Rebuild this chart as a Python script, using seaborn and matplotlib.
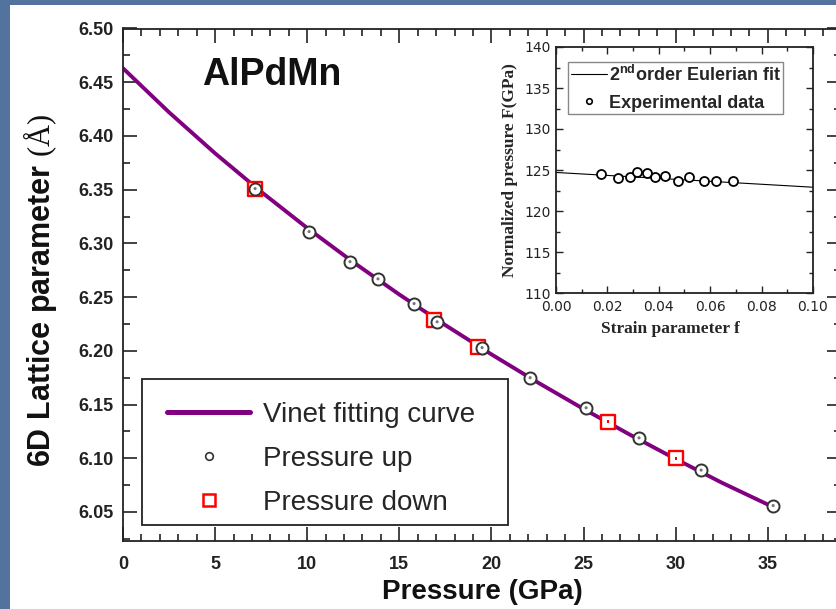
import matplotlib
matplotlib.use("Agg")
import matplotlib.pyplot as plt
import seaborn as sns
from matplotlib.lines import Line2D
from matplotlib.patches import Rectangle
from matplotlib.ticker import MultipleLocator, FormatStrFormatter

# ---------------- data ----------------
curve_p = [0, 2.5, 5, 7.5, 10, 12.5, 15, 17.5, 20, 22.5, 25, 27.5, 30, 32.5, 35.3]
curve_a = [6.4630, 6.4220, 6.3838, 6.3480, 6.3143, 6.2825, 6.2524, 6.2239, 6.1967,
           6.1707, 6.1459, 6.1221, 6.0993, 6.0773, 6.0545]

up_p = [7.17, 10.10, 12.32, 13.84, 15.80, 17.05, 19.49, 22.10, 25.14, 28.01, 31.38, 35.29]
up_a = [6.351, 6.311, 6.283, 6.267, 6.244, 6.227, 6.203, 6.175, 6.147, 6.119, 6.089, 6.056]

down_p = [7.17, 16.88, 19.27, 26.33, 30.02]
down_a = [6.351, 6.229, 6.204, 6.134, 6.100]

main_labels = ["Vinet fitting curve", "Pressure up", "Pressure down"]

strain = [0.0177, 0.0242, 0.0288, 0.0316, 0.0355, 0.0385, 0.0426, 0.0475, 0.0518,
          0.0575, 0.0624, 0.0687]
norm_p = [124.5, 124.0, 124.2, 124.7, 124.6, 124.1, 124.3, 123.6, 124.1, 123.6,
          123.6, 123.6]
fit_f = [0.0, 0.10]
fit_F = [124.7, 122.9]
inset_labels = [r"2$^{\mathbf{nd}}$order Eulerian fit", "Experimental data"]

# ---------------- style ----------------
sns.set_theme(style="ticks")
plt.rcParams["font.family"] = ["Liberation Sans", "DejaVu Sans"]
plt.rcParams["mathtext.fontset"] = "custom"
plt.rcParams["mathtext.rm"] = "Liberation Serif"
plt.rcParams["mathtext.bf"] = "Liberation Sans:bold"
plt.rcParams["axes.linewidth"] = 1.3
plt.rcParams["axes.edgecolor"] = "#222222"

W, H = 837, 609
def fx(px):
    return px / W
def fy(py):
    return 1 - py / H

fig = plt.figure(figsize=(W / 100, H / 100), dpi=100, facecolor="#51739e")
fig.patches.append(Rectangle((fx(10), 0), 1, 1 - 5 / H, transform=fig.transFigure,
                             facecolor="white", edgecolor="none", zorder=-10))

# ---------------- main axes ----------------
AX_L, AX_R, AX_T, AX_B = 123, 841.5, 28.5, 541
ax = fig.add_axes([fx(AX_L), fy(AX_B), (AX_R - AX_L) / W, (AX_B - AX_T) / H])
ax.set_facecolor("white")
def axx(px):
    return (px - AX_L) / (AX_R - AX_L)
def axy(py):
    return (AX_B - py) / (AX_B - AX_T)

sns.lineplot(x=curve_p, y=curve_a, color="#800080", linewidth=2.8, ax=ax, zorder=2)
sns.scatterplot(x=down_p, y=down_a, marker="s", s=100, color="white", edgecolor="red",
                linewidth=1.7, ax=ax, zorder=3)
sns.scatterplot(x=down_p, y=down_a, marker="s", s=4, color="red", edgecolor="none",
                ax=ax, zorder=3)
sns.scatterplot(x=up_p, y=up_a, marker="o", s=75, color="white", edgecolor="#333333",
                linewidth=1.4, ax=ax, zorder=4)
sns.scatterplot(x=up_p, y=up_a, marker="o", s=5, color="#777777", edgecolor="none",
                ax=ax, zorder=5)

ax.set_xlim(0, 39)
ax.set_ylim(6.023, 6.50)
ax.xaxis.set_major_locator(MultipleLocator(5))
ax.xaxis.set_minor_locator(MultipleLocator(1))
ax.yaxis.set_major_locator(MultipleLocator(0.05))
ax.yaxis.set_minor_locator(MultipleLocator(0.025))
ax.yaxis.set_major_formatter(FormatStrFormatter("%.2f"))
ax.tick_params(which="both", direction="in", top=True, right=True, color="#222222",
               width=1.2)
ax.tick_params(which="major", length=10, labelsize=13, labelcolor="#222222")
ax.tick_params(axis="y", which="major", pad=7)
ax.tick_params(axis="x", which="major", pad=11)
ax.tick_params(which="minor", length=5)
plt.setp(ax.get_xticklabels() + ax.get_yticklabels(), fontweight="bold")

ax.set_xlabel("Pressure (GPa)", fontsize=20, fontweight="bold", color="#111111", labelpad=4)
fig.text(fx(40), fy(290), "6D Lattice parameter $\\mathrm{(Å)}$", rotation=90,
         ha="center", va="center", fontsize=22, fontweight="bold", color="#111111")
ax.text(axx(202), axy(85), "AlPdMn", transform=ax.transAxes,
        fontsize=27, fontweight="bold", ha="left", va="baseline", color="#111111")

# legend frame drawn as its own box, legend entries placed inside it
ax.add_patch(Rectangle((axx(142), axy(525)), axx(508) - axx(142), axy(379) - axy(525),
                       transform=ax.transAxes, facecolor="white", edgecolor="#222222",
                       linewidth=1.3, zorder=6))
handles = [
    Line2D([], [], color="#800080", lw=3.6, solid_capstyle="round"),
    Line2D([], [], ls="none", marker="o", ms=5.5, mfc="white", mec="#333333", mew=1.2),
    Line2D([], [], ls="none", marker="s", ms=9, mfc="white", mec="red", mew=1.8),
]
leg = ax.legend(handles, main_labels, loc="upper left", bbox_to_anchor=(axx(167), axy(402)),
                borderaxespad=0, frameon=False,
                prop={"family": "Liberation Sans", "size": 20, "weight": "normal"},
                handlelength=3.0, handletextpad=0.47, labelspacing=0.64, borderpad=0)
leg.set_zorder(7)

# ---------------- inset ----------------
axi = fig.add_axes([fx(556), fy(293), 257 / W, 246 / H])
axi.set_facecolor("white")
sns.lineplot(x=fit_f, y=fit_F, color="black", linewidth=0.8, ax=axi, zorder=2)
sns.scatterplot(x=strain, y=norm_p, marker="o", s=42, color="white", edgecolor="black",
                linewidth=1.3, ax=axi, zorder=3)
axi.set_xlim(0, 0.10)
axi.set_ylim(110, 140)
axi.xaxis.set_major_locator(MultipleLocator(0.02))
axi.xaxis.set_minor_locator(MultipleLocator(0.01))
axi.xaxis.set_major_formatter(FormatStrFormatter("%.2f"))
axi.yaxis.set_major_locator(MultipleLocator(5))
axi.yaxis.set_minor_locator(MultipleLocator(2.5))
axi.tick_params(which="both", direction="in", top=True, right=True, color="#222222",
                width=1.0)
axi.tick_params(which="major", length=5, labelsize=10, labelcolor="#222222")
axi.tick_params(axis="y", which="major", pad=4)
axi.tick_params(axis="x", which="major", pad=5)
axi.tick_params(which="minor", length=3)
plt.setp(axi.get_xticklabels() + axi.get_yticklabels(), fontfamily="DejaVu Sans",
         fontweight="normal")
axi.set_xlabel("Strain parameter f", fontfamily="Liberation Serif", fontweight="bold",
               fontsize=12.5)
axi.xaxis.set_label_coords((670 - 556) / 257, (293 - 321) / 246)
axi.set_ylabel("Normalized pressure F(GPa)", fontfamily="Liberation Serif",
               fontweight="bold", fontsize=12.5, labelpad=4)

ihandles = [
    Line2D([], [], color="black", lw=0.8),
    Line2D([], [], ls="none", marker="o", ms=4, mfc="white", mec="black", mew=1.2),
]
ileg = axi.legend(ihandles, inset_labels, loc="upper left",
                  bbox_to_anchor=((568 - 556) / 257, (293 - 62) / 246), borderaxespad=0,
                  frameon=True, fancybox=False, edgecolor="#888888", framealpha=1,
                  prop={"family": "Liberation Sans", "size": 13, "weight": "bold"},
                  handlelength=2.0, handletextpad=0.1, labelspacing=0.55, borderpad=0.15)
ileg.get_frame().set_linewidth(1.0)

fig.savefig("out.png", dpi=100, facecolor=fig.get_facecolor())
